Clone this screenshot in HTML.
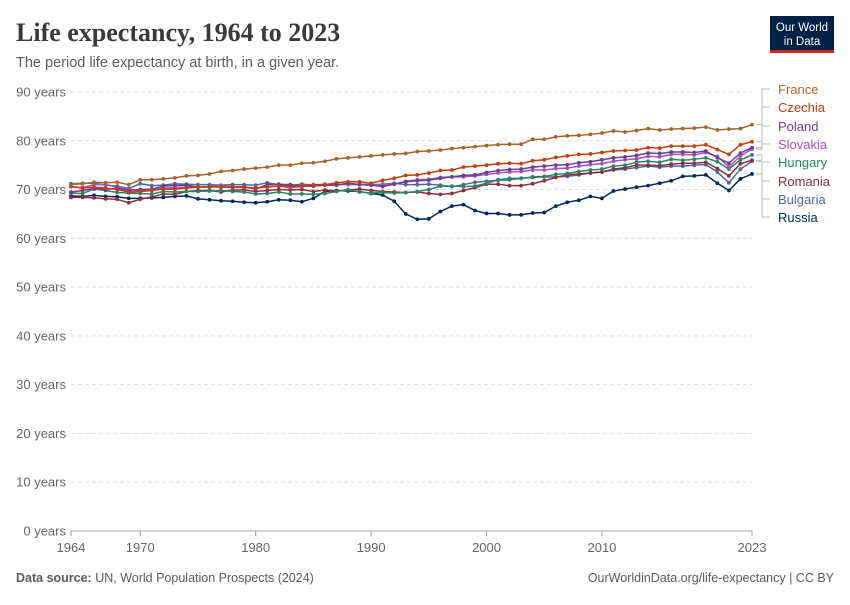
<!DOCTYPE html>
<html><head><meta charset="utf-8"><style>
body{margin:0;background:#fff;width:850px;height:600px;overflow:hidden;font-family:"Liberation Sans",sans-serif}
</style></head><body>
<svg width="850" height="600" xmlns="http://www.w3.org/2000/svg" id="chart">
<text x="16" y="41" font-family="Liberation Serif,serif" font-weight="bold" font-size="26" fill="#3a3a3a">Life expectancy, 1964 to 2023</text>
<text x="16" y="67" font-size="14.5" fill="#5b5b5b">The period life expectancy at birth, in a given year.</text>
<g><rect x="770" y="16" width="64" height="37" fill="#002147"/><rect x="770" y="50" width="64" height="3" fill="#ce261e"/>
<text x="802" y="31" font-size="11.5" fill="#fff" text-anchor="middle">Our World</text><text x="802" y="45" font-size="11.5" fill="#fff" text-anchor="middle">in Data</text></g>
<g id="grid"></g><g id="series"></g><g id="legend"></g>
<text x="16" y="582" font-size="12.5" fill="#5b5b5b"><tspan font-weight="bold">Data source:</tspan> UN, World Population Prospects (2024)</text>
<text x="834" y="582" font-size="12.5" fill="#5b5b5b" text-anchor="end">OurWorldinData.org/life-expectancy | CC BY</text>
</svg>
<script>
const years=[];for(let y=1964;y<=2023;y++)years.push(y);
const yTicks=[0,10,20,30,40,50,60,70,80,90];
const xTicks=[1964,1970,1980,1990,2000,2010,2023];
const names=["France","Czechia","Poland","Slovakia","Hungary","Romania","Bulgaria","Russia"];
const colors=["#a2672c","#c0410f","#6d3e91","#a652ba","#2c8465","#8b2f3c","#4c6a9c","#00295b"];
const france=[71.0,71.2,71.5,71.4,71.5,71.0,72.0,72.0,72.2,72.4,72.8,72.9,73.2,73.7,73.9,74.2,74.4,74.6,75.0,75.0,75.4,75.5,75.8,76.3,76.5,76.7,76.9,77.1,77.3,77.4,77.8,77.9,78.1,78.4,78.6,78.8,79.0,79.2,79.3,79.3,80.3,80.3,80.8,81.0,81.1,81.3,81.6,82.0,81.8,82.1,82.5,82.2,82.4,82.5,82.6,82.8,82.2,82.4,82.5,83.3];
const czechia=[70.6,70.3,70.5,70.3,70.0,69.5,69.6,69.8,70.1,70.1,70.3,70.5,70.5,70.6,70.6,70.5,70.3,70.6,70.7,70.6,70.8,71.0,71.0,71.4,71.6,71.6,71.3,71.9,72.3,72.9,73.0,73.4,73.9,74.0,74.6,74.8,75.0,75.3,75.4,75.3,75.9,76.1,76.6,76.9,77.2,77.3,77.6,77.9,78.0,78.1,78.6,78.5,78.9,78.9,78.9,79.2,78.2,77.2,79.2,79.8];
const poland=[69.5,69.8,70.2,70.0,70.3,69.8,70.0,70.1,70.7,70.8,70.9,70.5,70.6,70.5,70.5,70.6,70.1,71.0,71.1,71.0,70.8,70.7,70.9,70.9,71.3,71.0,70.9,70.6,71.1,71.6,71.8,71.9,72.3,72.6,72.9,73.0,73.5,73.9,74.1,74.2,74.6,74.8,75.0,75.1,75.5,75.7,76.1,76.5,76.7,77.0,77.5,77.4,77.7,77.7,77.6,77.9,76.5,75.4,77.5,78.6];
const slovakia=[70.6,70.4,71.0,71.0,70.5,70.0,69.8,70.0,70.3,70.4,70.5,70.5,70.6,70.8,70.5,70.4,70.3,70.5,70.7,70.4,70.6,70.7,70.9,71.1,71.0,71.0,70.9,70.9,71.1,71.7,72.0,72.1,72.5,72.6,72.6,72.8,73.1,73.4,73.6,73.7,74.0,74.0,74.3,74.4,74.8,75.1,75.3,75.8,76.1,76.3,76.8,76.7,77.2,77.2,77.1,77.6,76.8,74.6,76.9,78.3];
const hungary=[69.3,69.2,70.1,69.8,69.4,69.3,69.2,69.1,69.6,69.5,69.6,69.6,69.7,69.8,69.6,69.5,69.1,69.2,69.5,69.1,69.1,69.0,69.2,69.6,70.0,69.5,69.3,69.4,69.3,69.4,69.6,70.0,70.7,70.7,70.6,70.7,71.3,72.0,72.3,72.3,72.6,72.7,73.1,73.3,73.7,74.0,74.2,74.8,75.0,75.6,75.8,75.6,76.2,76.0,76.2,76.5,75.7,74.2,76.1,77.1];
const romania=[68.4,68.4,68.3,68.1,68.0,67.3,68.0,68.5,69.1,69.0,69.6,69.8,69.8,69.5,69.9,69.9,69.6,69.8,70.0,69.9,70.0,69.6,69.9,69.7,69.9,70.1,69.8,69.6,69.5,69.4,69.5,69.2,69.0,69.2,69.8,70.4,71.1,71.1,70.8,70.8,71.2,71.8,72.5,73.0,73.2,73.4,73.6,74.2,74.5,75.0,75.0,74.9,75.2,75.4,75.4,75.6,74.3,72.8,75.3,76.0];
const bulgaria=[71.2,71.3,71.3,70.9,70.7,70.2,71.2,70.8,70.9,71.2,71.1,71.0,71.0,70.9,71.0,71.0,70.9,71.4,71.0,70.8,71.1,70.9,71.1,71.0,71.2,71.1,71.0,71.1,71.3,71.0,71.0,71.1,70.9,70.6,71.0,71.5,71.7,71.9,72.0,72.3,72.5,72.6,72.6,72.7,73.0,73.4,73.6,74.0,74.2,74.5,74.8,74.6,74.8,74.8,75.0,75.1,73.6,71.4,74.2,75.8];
const russia=[68.7,68.6,68.8,68.6,68.5,68.2,68.2,68.3,68.4,68.6,68.7,68.1,67.9,67.7,67.6,67.4,67.3,67.5,67.9,67.8,67.5,68.2,69.6,69.8,69.7,69.6,69.2,68.9,67.6,65.0,63.9,64.0,65.5,66.6,66.9,65.7,65.1,65.1,64.8,64.8,65.2,65.3,66.6,67.4,67.8,68.6,68.2,69.7,70.1,70.5,70.8,71.3,71.8,72.7,72.8,73.0,71.3,69.8,72.2,73.2];
const series=[france,czechia,poland,slovakia,hungary,romania,bulgaria,russia];
const legendY=[93,111,130,148,166,185,203,221];
const NS="http://www.w3.org/2000/svg";
const X=y=>71+(y-1964)*(752-71)/(2023-1964);
const Y=v=>531-v*(531-92)/90;
function mk(t,a,p){const e=document.createElementNS(NS,t);for(const k in a)e.setAttribute(k,a[k]);p.appendChild(e);return e;}
const grid=document.getElementById('grid');
yTicks.forEach(v=>{
 const l=mk('line',{x1:71,x2:752,y1:Y(v),y2:Y(v),stroke:v===0?'#aaa':'#ddd','stroke-dasharray':v===0?'':'4,3'},grid);
 
 
 const t=mk('text',{x:66,y:Y(v)+4.5,'text-anchor':'end','font-size':13,fill:'#666'},grid);t.textContent=v+' years';
 
 
});
xTicks.forEach(v=>{
 mk('line',{x1:X(v),x2:X(v),y1:531,y2:536,stroke:'#999'},grid);
 const t=mk('text',{x:X(v),y:552,'text-anchor':'middle','font-size':13,fill:'#666'},grid);t.textContent=v;
 
 
});
const sg=document.getElementById('series'),lg=document.getElementById('legend');
for(let i=series.length-1;i>=0;i--){
 const d=series[i];
 const g=mk('g',{},sg);
 
 
 mk('polyline',{points:d.map((v,j)=>X(years[j])+','+Y(v)).join(' '),fill:'none',stroke:colors[i],'stroke-width':1.5},g);
 d.forEach((v,j)=>{const c=mk('circle',{cx:X(years[j]),cy:Y(v),r:1.9,fill:colors[i]},g);
  
  });
}
names.forEach((n,i)=>{
 const last=series[i][series[i].length-1];
 mk('path',{d:`M756 ${Y(last)} H762 V${legendY[i]-4} H770`,fill:'none',stroke:'#bbb','stroke-width':1},lg);
 const t=mk('text',{x:778,y:legendY[i]+1,'font-size':13,fill:colors[i]},lg);t.textContent=n;
 
 
});
</script>
</body></html>
